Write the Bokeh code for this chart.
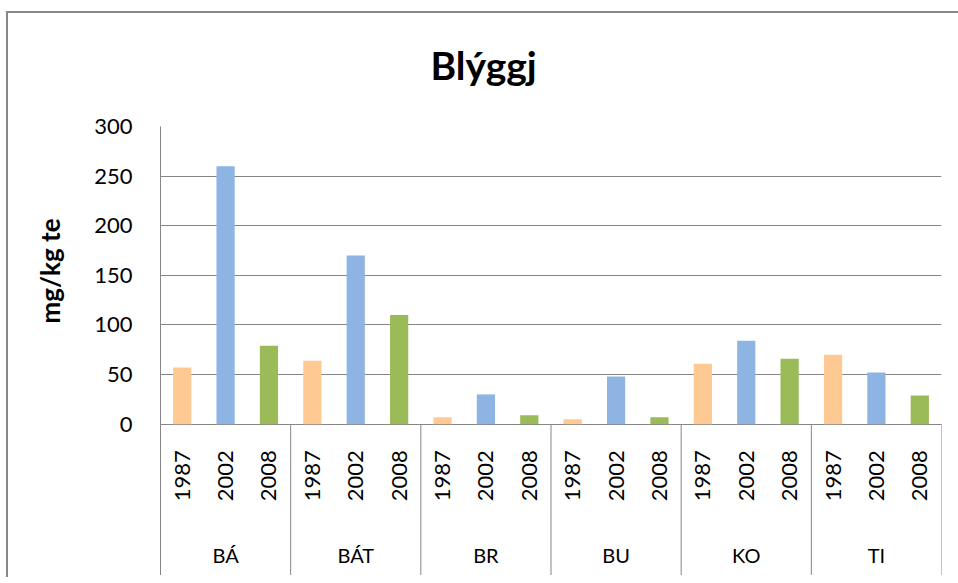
import math
from bokeh.plotting import figure
from bokeh.models import FactorRange, Range1d, FixedTicker, ColumnDataSource, InlineStyleSheet, Title
from bokeh.core.properties import value
from bokeh.embed import file_html
from bokeh.resources import INLINE

# ---- data ----
title_text = "Blýggj"
y_label = "mg/kg te"
groups = ["BÁ", "BÁT", "BR", "BU", "KO", "TI"]
years = ["1987", "2002", "2008"]
vals_1987 = [57, 64, 7, 5, 61, 70]
vals_2002 = [260, 170, 30, 48, 84, 52]
vals_2008 = [79, 110, 9, 7, 66, 29]
y_ticks = [0, 50, 100, 150, 200, 250, 300]
colors = ["#FFC994", "#8EB4E3", "#9BBB59"]

series = [vals_1987, vals_2002, vals_2008]
factors = [(g, y) for g in groups for y in years]
tops = []
bar_colors = []
for gi, g in enumerate(groups):
    for yi, y in enumerate(years):
        tops.append(series[yi][gi])
        bar_colors.append(colors[yi])

GRID = "#868686"
FONT = "Lato"

p = figure(
    width=950, height=575,
    x_range=FactorRange(factors=factors, group_padding=0, factor_padding=0, range_padding=0),
    y_range=Range1d(-152.5, 300),
    output_backend="svg", toolbar_location=None,
    min_border_left=160, min_border_right=9, min_border_top=124, min_border_bottom=0,
)
p.outline_line_color = None
p.background_fill_color = "white"
p.border_fill_color = "white"

# outer chart border (left and top edges visible in the window)
p.stylesheets = [InlineStyleSheet(css="""
:host { position: relative; }
:host::after {
  content: ""; position: absolute; left: 6px; top: 11px;
  width: 952px; height: 564px;
  border-left: 2px solid #888888; border-top: 2px solid #888888;
  pointer-events: none;
}
""")]

# title
p.title.text = title_text
p.title.align = "left"
p.title.offset = 270
p.title.text_font = FONT
p.title.text_font_size = "39px"
p.title.text_font_style = "bold"
p.title.text_color = "black"
p.title.standoff = 78

# axes
p.xaxis.visible = False
p.xgrid.visible = False
yax = p.yaxis[0]
yax.ticker = FixedTicker(ticks=y_ticks)
yax.major_tick_line_color = None
yax.minor_tick_line_color = None
yax.axis_line_color = GRID
yax.axis_line_width = 1
yax.major_label_text_font = FONT
yax.major_label_text_font_size = "22px"
yax.major_label_text_color = "black"
yax.major_label_standoff = 22
p.ygrid.grid_line_color = GRID
p.ygrid.grid_line_width = 1

# value-axis title, placed beside the 0..300 part of the axis
ytitle = Title(text=y_label, align="left", offset=252, vertical_align="bottom",
               standoff=52, text_font=FONT, text_font_size="26px",
               text_font_style="bold", text_color="black")
p.add_layout(ytitle, "left")

# bars
src = ColumnDataSource(dict(x=factors, top=tops, color=bar_colors))
p.vbar(x="x", top="top", bottom=0, width=0.42, fill_color="color", line_color=None, source=src)

# category labels (years, rotated) and group labels
p.text(x=factors, y=[-52] * len(factors), text=[f[1] for f in factors],
       angle=math.pi / 2, text_align="center", text_baseline="middle",
       text_font=value(FONT), text_font_size="22px", text_color="black")
p.text(x=[(g, years[1]) for g in groups], y=[-132] * len(groups), text=groups,
       text_align="center", text_baseline="middle",
       text_font=value(FONT), text_font_size="20px", text_color="black")

# group separators
sep_x = [(g, years[0], -0.5) for g in groups] + [(groups[-1], years[-1], 0.5)]
p.segment(x0=sep_x, y0=[0] * len(sep_x), x1=sep_x, y1=[-152.5] * len(sep_x),
          line_color=GRID, line_width=1)

open("out.html", "w").write(file_html(p, INLINE))
